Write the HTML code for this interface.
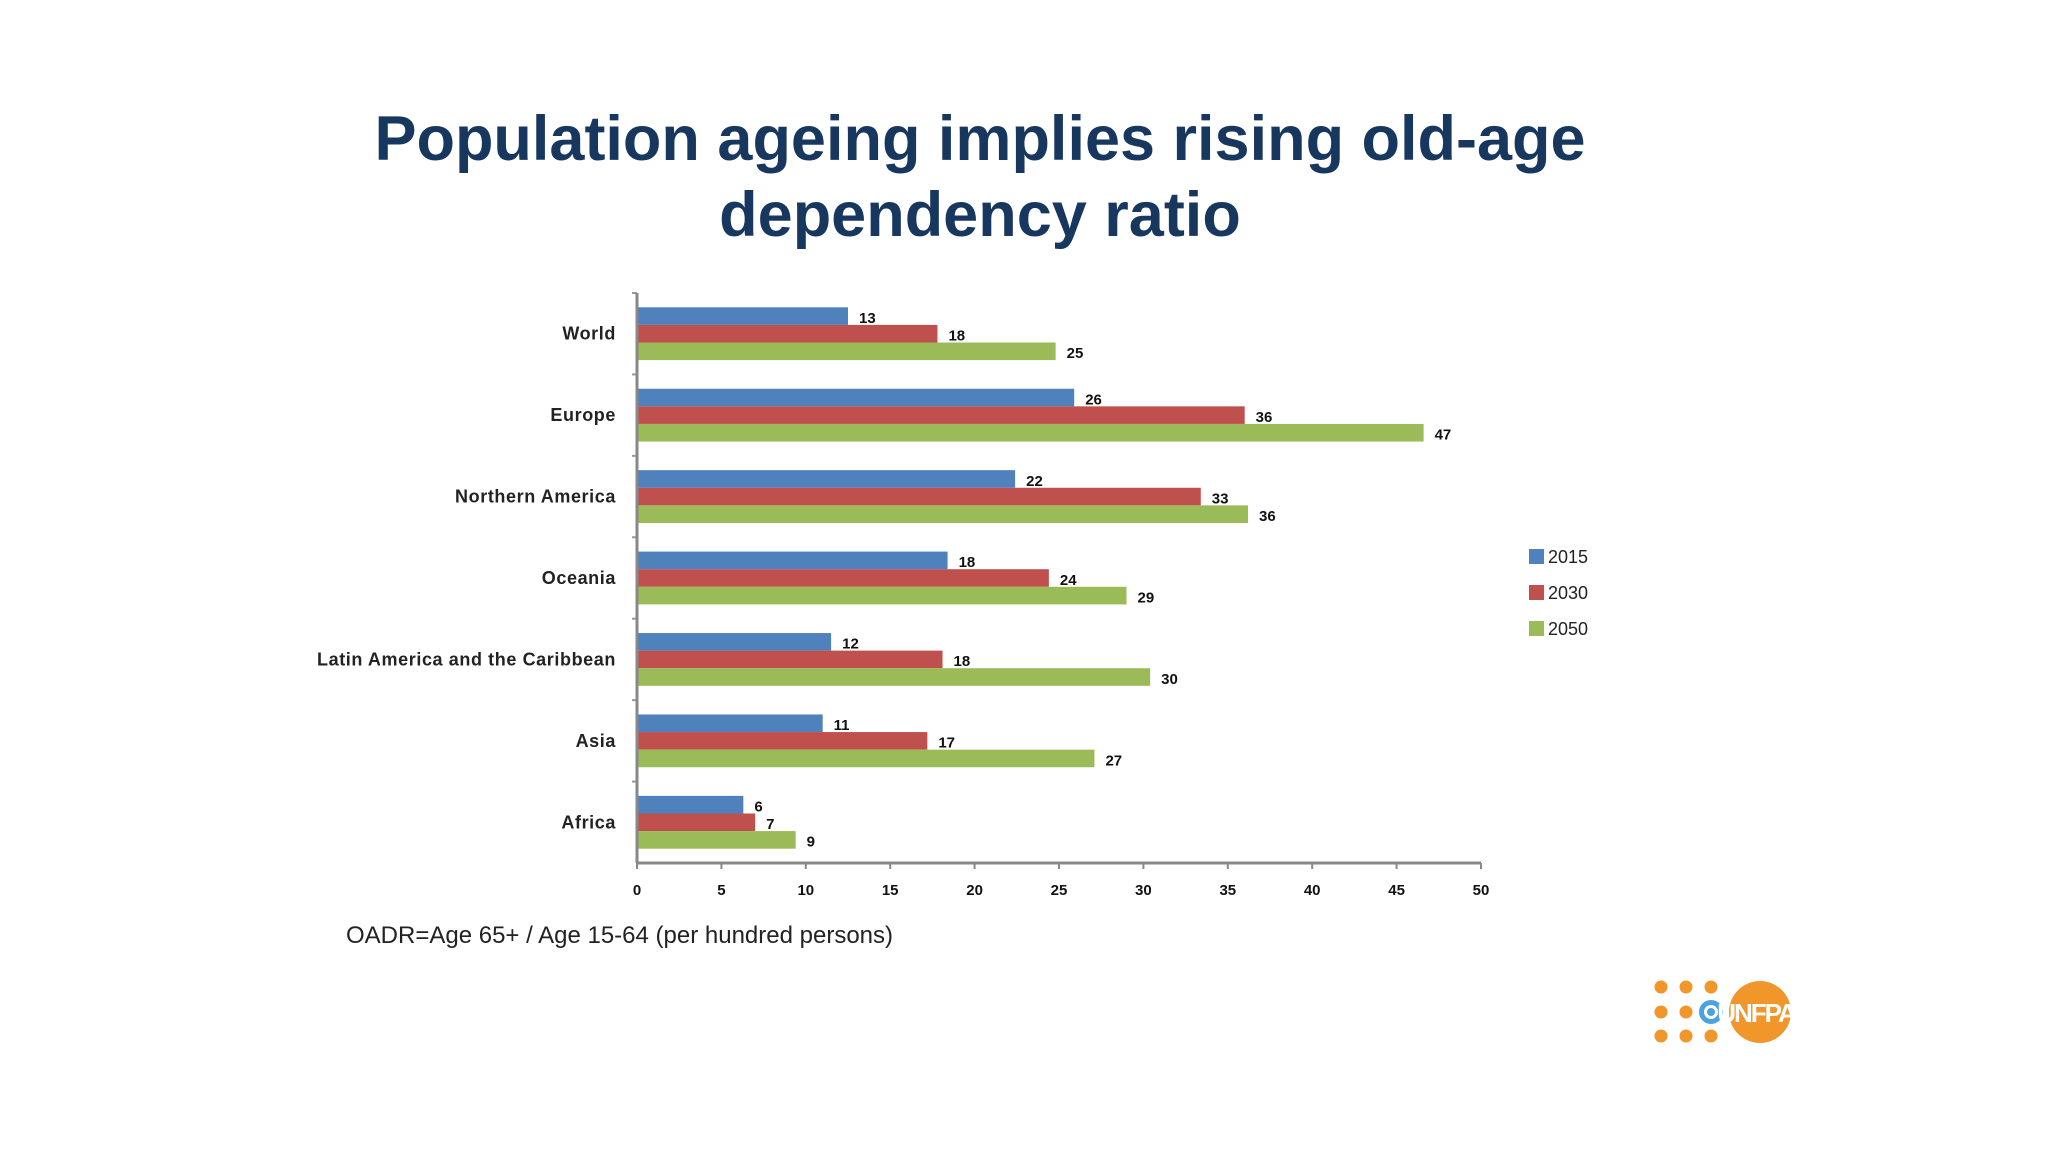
<!DOCTYPE html>
<html><head><meta charset="utf-8"><style>
html,body{margin:0;padding:0;background:#fff;}
svg{display:block;}
</style></head><body>
<svg id="c" width="2048" height="1152" xmlns="http://www.w3.org/2000/svg">
<text x="980" y="160" text-anchor="middle" font-family="Liberation Sans, sans-serif" font-weight="bold" font-size="63" fill="#17375e">Population ageing implies rising old-age</text>
<text x="980" y="236" text-anchor="middle" font-family="Liberation Sans, sans-serif" font-weight="bold" font-size="63" fill="#17375e">dependency ratio</text>
<text x="346" y="943" font-family="Liberation Sans, sans-serif" font-size="24" letter-spacing="0" fill="#222">OADR=Age 65+ / Age 15-64 (per hundred persons)</text>
<g id="plot"></g>
<g id="legend"></g>
<g fill="#f0962a">
<circle cx="1661" cy="987" r="6.5"/><circle cx="1686" cy="987" r="6.5"/><circle cx="1711" cy="987" r="6.5"/>
<circle cx="1661" cy="1012" r="6.5"/><circle cx="1686" cy="1012" r="6.5"/>
<circle cx="1661" cy="1036" r="6.5"/><circle cx="1686" cy="1036" r="6.5"/><circle cx="1711" cy="1036" r="6.5"/>
<circle cx="1711" cy="1012" r="12" fill="#4aa3df"/>
<circle cx="1711" cy="1012" r="7" fill="#fff"/>
<circle cx="1711" cy="1012" r="4" fill="#4aa3df"/>
<circle cx="1760" cy="1012" r="31"/>
<text x="1756" y="1022" text-anchor="middle" font-family="Liberation Sans, sans-serif" font-weight="bold" font-size="26" fill="#fff" letter-spacing="-2">UNFPA</text>
</g>
</svg>
<script>
const categories = ["World","Europe","Northern America","Oceania","Latin America and the Caribbean","Asia","Africa"];
const seriesNames = ["2015","2030","2050"];
const values2015 = [12.5, 25.9, 22.4, 18.4, 11.5, 11.0, 6.3];
const values2030 = [17.8, 36.0, 33.4, 24.4, 18.1, 17.2, 7.0];
const values2050 = [24.8, 46.6, 36.2, 29.0, 30.4, 27.1, 9.4];
const xTicks = [0,5,10,15,20,25,30,35,40,45,50];

const colors = ["#4f81bd","#c0504d","#9bbb59"];
const series = [values2015, values2030, values2050];
const NS = "http://www.w3.org/2000/svg";
const X0 = 637, X1 = 1481, XMAX = 50, YT = 293, YB = 863;
const band = (YB - YT) / categories.length, barH = 17.6;
const xs = v => X0 + (v / XMAX) * (X1 - X0);
const plot = document.getElementById('plot');
function mk(tag, attrs, parent) {
  const e = document.createElementNS(NS, tag);
  for (const k in attrs) e.setAttribute(k, attrs[k]);
  parent.appendChild(e);
  return e;
}
const font = "Liberation Sans, DejaVu Sans, sans-serif";
categories.forEach((cat, i) => {
  const bt = YT + i * band;
  const gTop = bt + (band - 3 * barH) / 2;
  series.forEach((vals, s) => {
    const r = mk('rect', {x: X0, y: gTop + s * barH, width: xs(vals[i]) - X0, height: barH, fill: colors[s]}, plot);
    
    
    const t = mk('text', {x: xs(vals[i]) + 11, y: gTop + s * barH + barH - 2, 'font-family': font, 'font-weight': 'bold', 'font-size': 15, fill: '#111'}, plot);
    t.textContent = Math.round(vals[i]);
    
    
  });
  const lab = mk('text', {x: 616, y: bt + band / 2 + 6, 'text-anchor': 'end', 'font-family': font, 'font-weight': 'bold', 'font-size': 18, 'letter-spacing': 0.6, fill: '#222'}, plot);
  lab.textContent = cat;
  
  
  const tk = mk('line', {x1: X0 - 5, x2: X0, y1: bt, y2: bt, stroke: '#999', 'stroke-width': 2}, plot);
  
  
});
const ya = mk('line', {x1: X0, x2: X0, y1: YT, y2: YB, stroke: '#888', 'stroke-width': 3}, plot);


const xa = mk('line', {x1: X0, x2: X1, y1: YB, y2: YB, stroke: '#888', 'stroke-width': 3}, plot);


xTicks.forEach(v => {
  const l = mk('line', {x1: xs(v), x2: xs(v), y1: YB, y2: YB + 6, stroke: '#888', 'stroke-width': 2}, plot);
  
  
  const t = mk('text', {x: xs(v), y: YB + 32, 'text-anchor': 'middle', 'font-family': font, 'font-weight': 'bold', 'font-size': 15, fill: '#111'}, plot);
  t.textContent = v;
  
  
});
const lg = document.getElementById('legend');
seriesNames.forEach((n, s) => {
  const y = 556 + s * 36;
  const r = mk('rect', {x: 1529, y: y - 7, width: 15, height: 15, fill: colors[s]}, lg);
  
  
  const t = mk('text', {x: 1548, y: y + 7, 'font-family': font, 'font-size': 18, fill: '#222'}, lg);
  t.textContent = n;
  
  
});
</script>
</body></html>
